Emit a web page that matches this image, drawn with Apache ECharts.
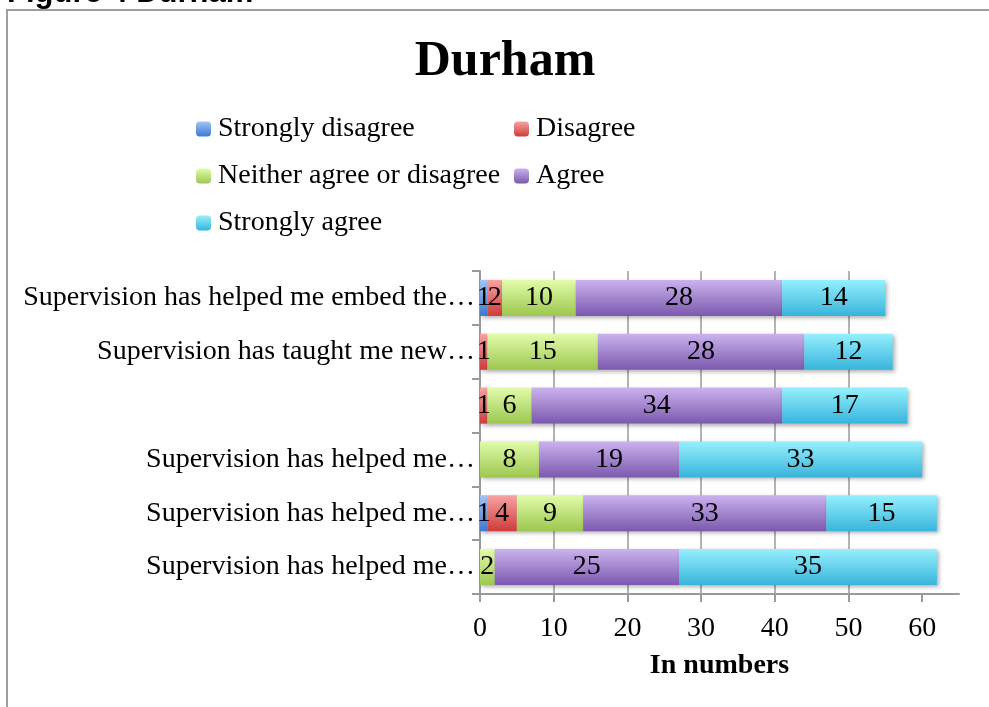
<!DOCTYPE html>
<html>
<head>
	<meta charset="utf-8" />
	<title>Durham</title>
	<script type="text/javascript" src="https://cdn.jsdelivr.net/npm/echarts@6/dist/echarts.min.js"></script>
	<style>
		html, body {margin:0;padding:0;background:#fff;}
		#chart {width:989px;height:707px;}
	</style>
</head>
<body>
	<div id="chart"></div>
	<script>
		var categories = [
			'Supervision has helped me embed the\u2026',
			'Supervision has taught me new\u2026',
			'',
			'Supervision has helped me\u2026',
			'Supervision has helped me\u2026',
			'Supervision has helped me\u2026'
		];
		var seriesNames = ['Strongly disagree', 'Disagree', 'Neither agree or disagree', 'Agree', 'Strongly agree'];
		var stronglyDisagree = [1, 0, 0, 0, 1, 0];
		var disagree         = [2, 1, 1, 0, 4, 0];
		var neither          = [10, 15, 6, 8, 9, 2];
		var agree            = [28, 28, 34, 19, 33, 25];
		var stronglyAgree    = [14, 12, 17, 33, 15, 35];
		var xTicks = [0, 10, 20, 30, 40, 50, 60];

		var serif = '"Liberation Serif", "DejaVu Serif", serif';

		// top / bottom colours of each bar gradient
		var colors = [
			['#a3c4f5', '#3d79cf'],
			['#f8a3a3', '#cf3b3b'],
			['#e2fcab', '#9cc74f'],
			['#cbb3ee', '#7b58ae'],
			['#96f0fd', '#37b4db']
		];

		function grad(c) {
			return new echarts.graphic.LinearGradient(0, 0, 0, 1, [
				{offset: 0, color: c[0]},
				{offset: 1, color: c[1]}
			]);
		}

		var values = [stronglyDisagree, disagree, neither, agree, stronglyAgree];
		var series = seriesNames.map((name, i) => ({
			name: name,
			type: 'bar',
			stack: 'total',
			barCategoryGap: '33%',
			data: values[i],
			itemStyle: {
				color: grad(colors[i]),
				shadowBlur: 4,
				shadowOffsetX: 2,
				shadowOffsetY: 2,
				shadowColor: 'rgba(0,0,0,0.3)'
			},
			label: {
				show: true,
				position: 'inside',
				color: '#000',
				fontFamily: serif,
				fontSize: 28,
				formatter: p => p.value ? p.value : ''
			}
		}));

		var chart = echarts.init(document.getElementById('chart'));

		var option = {
			animation: false,
			textStyle: {fontFamily: serif},
			title: {
				text: 'Durham',
				left: 500,
				top: 32,
				textAlign: 'center',
				textStyle: {fontFamily: serif, fontSize: 50, fontWeight: 'bold', color: '#000'}
			},
			legend: [
				{
					data: [seriesNames[0], seriesNames[2], seriesNames[4]],
					orient: 'vertical',
					left: 196,
					top: 113,
					padding: 0,
					itemWidth: 15,
					itemHeight: 15,
					itemGap: 15,
					textStyle: {fontFamily: serif, fontSize: 28, lineHeight: 32, color: '#000', padding: [0, 0, 0, 2]}
				},
				{
					data: [seriesNames[1], seriesNames[3]],
					orient: 'vertical',
					left: 514,
					top: 113,
					padding: 0,
					itemWidth: 15,
					itemHeight: 15,
					itemGap: 15,
					textStyle: {fontFamily: serif, fontSize: 28, lineHeight: 32, color: '#000', padding: [0, 0, 0, 2]}
				}
			],
			grid: {
				left: 480,
				right: 30,
				top: 271,
				bottom: 113,
				containLabel: false
			},
			xAxis: {
				type: 'value',
				min: 0,
				max: 65,
				interval: 10,
				name: 'In numbers',
				nameLocation: 'middle',
				nameGap: 58,
				nameTextStyle: {fontFamily: serif, fontSize: 28, fontWeight: 'bold', color: '#000'},
				axisLine: {show: true, lineStyle: {color: '#9a9a9a', width: 2}},
				axisTick: {show: true, length: 8, customValues: xTicks, lineStyle: {color: '#9a9a9a', width: 2}},
				axisLabel: {customValues: xTicks, margin: 21, fontFamily: serif, fontSize: 28, color: '#000'},
				splitLine: {show: true, showMinLine: false, showMaxLine: false, lineStyle: {color: '#9a9a9a', width: 1.5}}
			},
			yAxis: {
				type: 'category',
				inverse: true,
				data: categories,
				axisLine: {show: true, lineStyle: {color: '#9a9a9a', width: 2}},
				axisTick: {show: true, length: 8, lineStyle: {color: '#9a9a9a', width: 2}},
				axisLabel: {margin: 5, fontFamily: serif, fontSize: 28, color: '#000'}
			},
			graphic: [
				{
					type: 'rect',
					shape: {x: 7, y: 10, width: 1200, height: 1000},
					style: {fill: 'none', stroke: '#9e9e9e', lineWidth: 2},
					silent: true,
					z: -1
				},
				{
					type: 'text',
					x: 7,
					y: 9,
					style: {text: 'Figure 4 Durham', font: 'bold 31px "Liberation Sans", Arial, sans-serif', fill: '#000', verticalAlign: 'bottom'},
					silent: true
				}
			],
			series: series
		};

		chart.setOption(option);
	</script>
</body>
</html>
